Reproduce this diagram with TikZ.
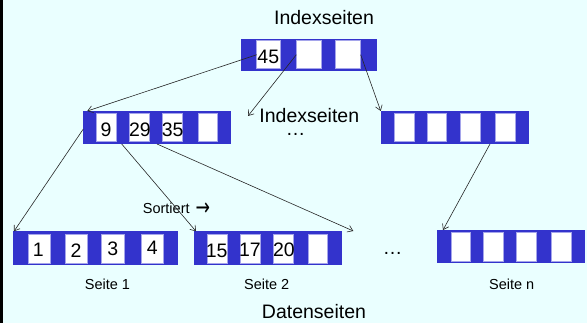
\documentclass[tikz,border=0pt]{standalone}
\usepackage{fontspec}
\setmainfont{Liberation Sans}
\newfontfamily\symfont{DejaVu Sans}
\usetikzlibrary{arrows.meta,calc}
\definecolor{bgc}{RGB}{234,255,255}
\definecolor{bluec}{RGB}{51,51,204}
\definecolor{cellline}{RGB}{165,165,235}
\tikzset{
 bluebox/.style={fill=bluec, draw=none, inner sep=0pt, outer sep=0pt, anchor=north west},
 cellbox/.style={fill=white, draw=cellline, line width=0.6pt, inner sep=0pt, outer sep=0pt, anchor=north west},
 bigtext/.style={font=\fontsize{19.5}{22}\selectfont, inner sep=0pt, anchor=base},
 smalltext/.style={font=\fontsize{14.5}{17}\selectfont, inner sep=0pt, anchor=base},
 link/.style={draw=black!85, line width=0.6pt, -{Straight Barb[length=5pt,width=7pt]}},
}
\newcommand\mkrect[6]{\node[#1, minimum width={(#5-#3)*1pt}, minimum height={(#6-#4)*1pt}] (#2) at (#3,#4) {};}
\begin{document}
\begin{tikzpicture}[x=1pt,y=-1pt]
\fill[bgc] (0,0) rectangle (587,323);
\useasboundingbox (0,0) rectangle (587,323);
\fill[black] (0,0) rectangle (2.7,323);

% top index page
\mkrect{bluebox}{T}{240.5}{38.7}{376.7}{71}
\mkrect{cellbox}{T1}{256.7}{40.7}{280.3}{68.8}
\mkrect{cellbox}{T2}{296.3}{40.7}{321}{68.8}
\mkrect{cellbox}{T3}{335.7}{40.7}{360.7}{68.8}

% middle index pages
\mkrect{bluebox}{ML}{83.3}{111}{230.7}{144}
\mkrect{cellbox}{ML1}{96.7}{113.3}{116}{141.7}
\mkrect{cellbox}{ML2}{129.3}{113.3}{149.3}{141.7}
\mkrect{cellbox}{ML3}{162.7}{113.3}{182.7}{141.7}
\mkrect{cellbox}{ML4}{198}{113.3}{217.3}{141.7}

\mkrect{bluebox}{MR}{380.7}{111}{528.7}{144}
\mkrect{cellbox}{MR1}{394.3}{113.3}{414}{141.7}
\mkrect{cellbox}{MR2}{427}{113.3}{446.7}{141.7}
\mkrect{cellbox}{MR3}{460}{113.3}{480}{141.7}
\mkrect{cellbox}{MR4}{495}{113.3}{515}{141.7}

% data pages
\mkrect{bluebox}{BL}{12.7}{231.3}{178.3}{264.7}
\mkrect{cellbox}{BL1}{28}{234}{50}{263}
\mkrect{cellbox}{BL2}{65}{234}{87.3}{263}
\mkrect{cellbox}{BL3}{101.7}{234}{124}{263}
\mkrect{cellbox}{BL4}{141}{234}{163.3}{263}

\mkrect{bluebox}{BM}{194}{231.3}{341.7}{264.7}
\mkrect{cellbox}{BM1}{207.3}{234}{227.7}{263}
\mkrect{cellbox}{BM2}{240}{234}{260}{263}
\mkrect{cellbox}{BM3}{273.3}{234}{293}{263}
\mkrect{cellbox}{BM4}{308.3}{234}{327.7}{263}

\mkrect{bluebox}{BR}{437}{230}{585}{262.7}
\mkrect{cellbox}{BR1}{451}{232.7}{470}{261}
\mkrect{cellbox}{BR2}{483.7}{232.7}{503.3}{261}
\mkrect{cellbox}{BR3}{516.7}{232.7}{536}{261}
\mkrect{cellbox}{BR4}{551.7}{232.7}{571.7}{261}

% numbers
\node[bigtext] (n45) at (268.3,63.5) {45};
\node[bigtext] (n9) at (106,136.3) {9};
\node[bigtext] (n29) at (140,136.3) {29};
\node[bigtext] (n35) at (172.7,136.3) {35};
\node[bigtext] (n1) at (38.3,256.3) {1};
\node[bigtext] (n2) at (76,257.7) {2};
\node[bigtext] (n3) at (112.7,255.3) {3};
\node[bigtext] (n4) at (152.3,254.7) {4};
\node[bigtext] (n15) at (216.7,257.7) {15};
\node[bigtext] (n17) at (250,256.3) {17};
\node[bigtext] (n20) at (284,256.3) {20};

% labels
\node[bigtext] (lidx1) at (324,25) {Indexseiten};
\node[bigtext] (lidx2) at (309.3,122.3) {Indexseiten};
\node[bigtext] (ldots1) at (295.5,136) {…};
\node[bigtext] (ldots2) at (392.7,255) {…};
\node[bigtext] (ldata) at (314,318.3) {Datenseiten};
\node[smalltext, anchor=base west] (lsort) at (142.7,213.3) {Sortiert\hspace{6pt}\raisebox{-2.2pt}{\scalebox{1.15}[1.6]{\symfont\fontsize{15}{17}\selectfont →}}};
\node[smalltext] (ls1) at (107.5,289.3) {Seite 1};
\node[smalltext] (ls2) at (266.7,289.3) {Seite 2};
\node[smalltext] (lsn) at (511.7,289.3) {Seite n};

% connectors
\coordinate (e2) at (248,116);
\coordinate (e6) at (353.3,231);
\draw[link] (T1.west) -- ([xshift=4pt]ML.north west);
\draw[link] (T2.west) -- (e2);
\draw[link] (T3.east) -- (MR.north west);
\draw[link] ([yshift=-1.5pt]ML.west) -- ([xshift=1.3pt]BL.north west);
\draw[link] ($(ML.south west)+(38.4,0)$) -- ([xshift=2pt]BM.north west);
\draw[link] (ML.south) -- (e6);
\draw[link] ($(MR.south west)+(109.3,0)$) -- ([xshift=6pt]BR.north west);
\end{tikzpicture}
\end{document}
